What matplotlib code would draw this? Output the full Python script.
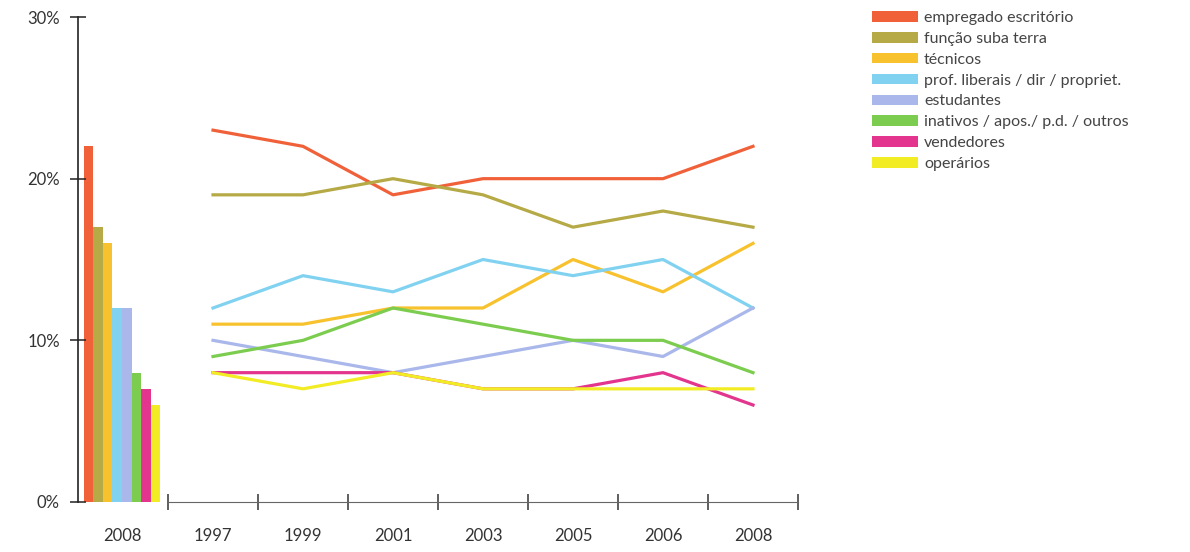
import matplotlib
matplotlib.use("Agg")
import matplotlib.pyplot as plt
from matplotlib.patches import Patch

plt.rcParams['font.family'] = ['Lato', 'DejaVu Sans']

categories = ["empregado escritório", "função suba terra", "técnicos",
              "prof. liberais / dir / propriet.", "estudantes",
              "inativos / apos./ p.d. / outros", "vendedores", "operários"]
colors = ["#f0613a", "#b5aa45", "#f7c22e", "#80d2f0",
          "#a9b7ea", "#7ccd4f", "#e3358d", "#f2ec25"]

years = ["1997", "1999", "2001", "2003", "2005", "2006", "2008"]
empregado = [23, 22, 19, 20, 20, 20, 22]
funcao = [19, 19, 20, 19, 17, 18, 17]
tecnicos = [11, 11, 12, 12, 15, 13, 16]
prof_liberais = [12, 14, 13, 15, 14, 15, 12]
estudantes = [10, 9, 8, 9, 10, 9, 12]
inativos = [9, 10, 12, 11, 10, 10, 8]
vendedores = [8, 8, 8, 7, 7, 8, 6]
operarios = [8, 7, 8, 7, 7, 7, 7]
series = [empregado, funcao, tecnicos, prof_liberais,
          estudantes, inativos, vendedores, operarios]

bar_year = "2008"
bar_values = [22, 17, 16, 12, 12, 8, 7, 6]

y_ticks = [0, 10, 20, 30]
y_tick_labels = ["0%", "10%", "20%", "30%"]

W, H = 1190, 552
fig = plt.figure(figsize=(W / 100, H / 100), dpi=100)
txt = "#333333"

# ---- bar panel ----
ax_bar = fig.add_axes([78 / W, 50 / H, 90 / W, 485 / H])
ax_bar.bar(range(len(bar_values)), bar_values, width=1.0, color=colors)
ax_bar.set_xlim(-1.13, 8.34)
ax_bar.set_ylim(0, 30)
for s in ["top", "right", "bottom"]:
    ax_bar.spines[s].set_visible(False)
ax_bar.spines["left"].set_color("#222222")
ax_bar.spines["left"].set_linewidth(1.2)
ax_bar.set_yticks(y_ticks)
ax_bar.set_yticklabels(y_tick_labels)
ax_bar.tick_params(axis="y", direction="inout", length=12, width=1.1,
                   color="#222222", labelsize=12, labelcolor=txt, pad=7)
ax_bar.set_xticks([3.5])
ax_bar.set_xticklabels([bar_year])
ax_bar.tick_params(axis="x", length=0, labelsize=12, labelcolor=txt, pad=19)
ax_bar.patch.set_alpha(0)

# ---- line panel ----
ax_line = fig.add_axes([168 / W, 50 / H, 630 / W, 485 / H])
xs = list(range(len(years)))
for vals, c in zip(series, colors):
    ax_line.plot(xs, vals, color=c, lw=2.3, solid_joinstyle="round")
ax_line.set_xlim(-0.5, len(years) - 0.5)
ax_line.set_ylim(0, 30)
for s in ["top", "right", "left"]:
    ax_line.spines[s].set_visible(False)
ax_line.spines["bottom"].set_color("#666666")
ax_line.spines["bottom"].set_linewidth(0.8)
ax_line.set_yticks([])
ax_line.set_xticks([i - 0.5 for i in range(len(years) + 1)])
ax_line.set_xticklabels([])
ax_line.tick_params(axis="x", which="major", direction="inout", length=11,
                    width=1.1, color="#333333")
ax_line.set_xticks(xs, minor=True)
ax_line.set_xticklabels(years, minor=True)
ax_line.tick_params(axis="x", which="minor", length=0, labelsize=12,
                    labelcolor=txt, pad=19)
ax_line.patch.set_alpha(0)

# ---- legend ----
handles = [Patch(facecolor=c, edgecolor="none", label=l)
           for c, l in zip(colors, categories)]
leg = fig.legend(handles=handles, loc="upper left",
                 bbox_to_anchor=(872 / W, 1 - 11 / H), frameon=False,
                 fontsize=11.5, handlelength=2.9, handleheight=0.65,
                 handletextpad=0.35, labelspacing=0.43, borderaxespad=0,
                 borderpad=0)
for t in leg.get_texts():
    t.set_color("#444444")

fig.savefig("out.png", dpi=100)
